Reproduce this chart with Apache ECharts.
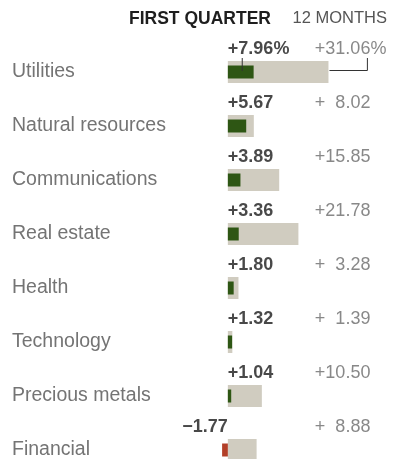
<!DOCTYPE html>
<html>
<head>
<meta charset="utf-8">
<script src="https://cdn.jsdelivr.net/npm/echarts@6/dist/echarts.min.js"></script>
<style>
html,body{margin:0;padding:0;background:#fff;}
#chart{width:393px;height:459px;}
</style>
</head>
<body>
<div id="chart"></div>
<script>
// ---- data ----
var categories = ['Utilities','Natural resources','Communications','Real estate','Health','Technology','Precious metals','Financial'];
var firstQuarter = [7.96, 5.67, 3.89, 3.36, 1.80, 1.32, 1.04, -1.77];
var twelveMonths = [31.06, 8.02, 15.85, 21.78, 3.28, 1.39, 10.50, 8.88];
var headerLabels = ['FIRST QUARTER', '12 MONTHS'];

// ---- layout / style constants ----
var X_MIN = -16, X_MAX = 44;
var FONT = '"Liberation Sans", Arial, Helvetica, sans-serif';
var GREEN = '#2e5614', RED = '#b23f28', GRAY = '#d0ccc0';
var LABEL_UP = -23;

function fmtQ(v, i) {
  var s = (v < 0 ? '\u2212' : '+') + Math.abs(v).toFixed(2);
  return i === 0 ? s + '%' : s;
}
function fmtY(v, i) {
  var s = '+' + (v < 10 ? '  ' : '') + v.toFixed(2);
  return i === 0 ? s + '%' : s;
}

var chart = echarts.init(document.getElementById('chart'));

var qBars = firstQuarter.map(function (v) {
  return { value: v, itemStyle: { color: v < 0 ? RED : GREEN } };
});
var qLabels = firstQuarter.map(function (v, i) {
  return {
    value: [0, i],
    label: { formatter: fmtQ(v, i), align: v < 0 ? 'right' : 'left' }
  };
});
var yLabels = twelveMonths.map(function (v, i) {
  return {
    value: [X_MAX, i],
    label: { formatter: fmtY(v, i), offset: [i === 0 ? 16 : 0, LABEL_UP] }
  };
});

var headerGraphics = [
  { type: 'text', left: 129, top: 10, style: { text: headerLabels[0], fill: '#1e1e1e', font: 'bold 17.5px ' + FONT } },
  { type: 'text', right: 6, top: 10, style: { text: headerLabels[1], fill: '#555', font: '16.5px ' + FONT } }
];

var option = {
  animation: false,
  grid: { left: 176, top: 45, width: 194.4, height: 432, outerBoundsMode: 'none', containLabel: false },
  xAxis: { type: 'value', min: X_MIN, max: X_MAX, show: false },
  yAxis: [
    {
      type: 'category', data: categories, inverse: true,
      axisLine: { show: false }, axisTick: { show: false }, splitLine: { show: false },
      axisLabel: {
        align: 'left', margin: 164, color: '#747474',
        fontFamily: FONT, fontSize: 19.5
      }
    },
    { type: 'category', data: categories, inverse: true, show: false }
  ],
  series: [
    {
      type: 'bar', name: '12 months', data: twelveMonths, yAxisIndex: 0,
      barWidth: 22, itemStyle: { color: GRAY }, silent: true
    },
    {
      type: 'bar', name: 'First quarter', data: qBars, yAxisIndex: 1,
      barWidth: 13, silent: true
    },
    {
      type: 'scatter', data: qLabels, yAxisIndex: 0, symbolSize: 0, clip: false, silent: true,
      label: {
        show: true, position: 'inside', offset: [0, LABEL_UP], verticalAlign: 'middle',
        color: '#1a1a1a', fontWeight: 'bold', fontFamily: FONT, fontSize: 18
      }
    },
    {
      type: 'scatter', data: yLabels, yAxisIndex: 0, symbolSize: 0, clip: false, silent: true,
      label: {
        show: true, position: 'inside', align: 'right', verticalAlign: 'middle',
        color: '#6a6a6a', fontFamily: FONT, fontSize: 18
      }
    }
  ],
  graphic: headerGraphics
};
chart.setOption(option);

// connector lines for the first row (annotation)
var gMid = chart.convertToPixel({ gridIndex: 0 }, [firstQuarter[0] / 2, 0]);
var yEnd = chart.convertToPixel({ gridIndex: 0 }, [twelveMonths[0], 0]);
var lblX = chart.convertToPixel({ gridIndex: 0 }, [X_MAX, 0]);
var yTopLbl = gMid[1] + LABEL_UP + 9;
chart.setOption({
  graphic: headerGraphics.concat([
    { type: 'polyline', shape: { points: [[gMid[0] + 1.5, yTopLbl], [gMid[0] + 1.5, gMid[1] - 1]] },
      style: { stroke: '#333', lineWidth: 1, fill: null }, z: 100 },
    { type: 'polyline', shape: { points: [[yEnd[0] + 1, yEnd[1] - 1.5], [lblX[0] - 3, yEnd[1] - 1.5], [lblX[0] - 3, yTopLbl]] },
      style: { stroke: '#333', lineWidth: 1, fill: null }, z: 100 }
  ])
}, { replaceMerge: ['graphic'] });
</script>
</body>
</html>
